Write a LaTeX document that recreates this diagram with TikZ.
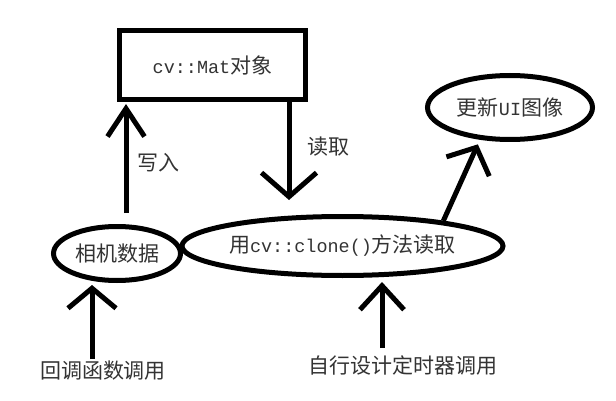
\documentclass[tikz,border=0pt]{standalone}
\usepackage{fontspec}
\usepackage{tikz}
\usetikzlibrary{shapes.geometric,arrows.meta}
\newfontfamily\cjk{Noto Sans CJK SC}
\newfontfamily\lmono[Scale=0.88]{Liberation Mono}
\tikzset{
	txt/.style={font=\cjk\fontsize{21}{24}\selectfont,text=black!80,inner sep=2pt},
	box/.style={txt,draw,line width=5pt,minimum width=186pt,minimum height=69pt},
	oval/.style 2 args={txt,ellipse,draw,line width=5pt,inner sep=0pt,minimum width=#1,minimum height=#2},
	arr/.style 2 args={line width=5pt,-{Straight Barb[length=#1,width=#2]}}
}
\begin{document}
\begin{tikzpicture}[x=1pt,y=-1pt]
	\useasboundingbox (0,0) rectangle (616,401);
	\node [box] (mat) at (212.5,65) {{\lmono cv::Mat}对象};
	\node [oval={127pt}{54pt}] (cam) at (117,253.5) {相机数据};
	\node [oval={274pt}{59pt}] (clone) at (342.5,246) {用{\lmono cv::clone()}方法读取};
	\node [oval={165pt}{64pt}] (ui) at (510,107.5) {更新{\lmono UI}图像};
	\node [txt] (cb) at (103,371) {回调函数调用};
	\node [txt] (timer) at (403,365) {自行设计定时器调用};
	\node [txt] (write) at (158,163) {写入};
	\node [txt] (read) at (328,147) {读取};

	\draw [arr={20pt}{48pt},shorten >=2pt] (cb.north -| 92,0) -- (cam.south -| 92,0);
	\draw [arr={24pt}{44pt},shorten <=5pt,shorten >=4pt] (timer.north -| 382,0) -- (clone.south -| 382,0);
	\draw [arr={28pt}{37pt},shorten <=11pt,shorten >=2pt] (cam.north -| 126,0) -- (mat.south -| 126,0);
	\draw [arr={24pt}{55pt},shorten >=14pt] (mat.south -| 289,0) -- (clone.north -| 289,0);
	\draw [arr={21pt}{47pt},shorten >=5pt] (clone.14) -- (ui.227);
\end{tikzpicture}
\end{document}
